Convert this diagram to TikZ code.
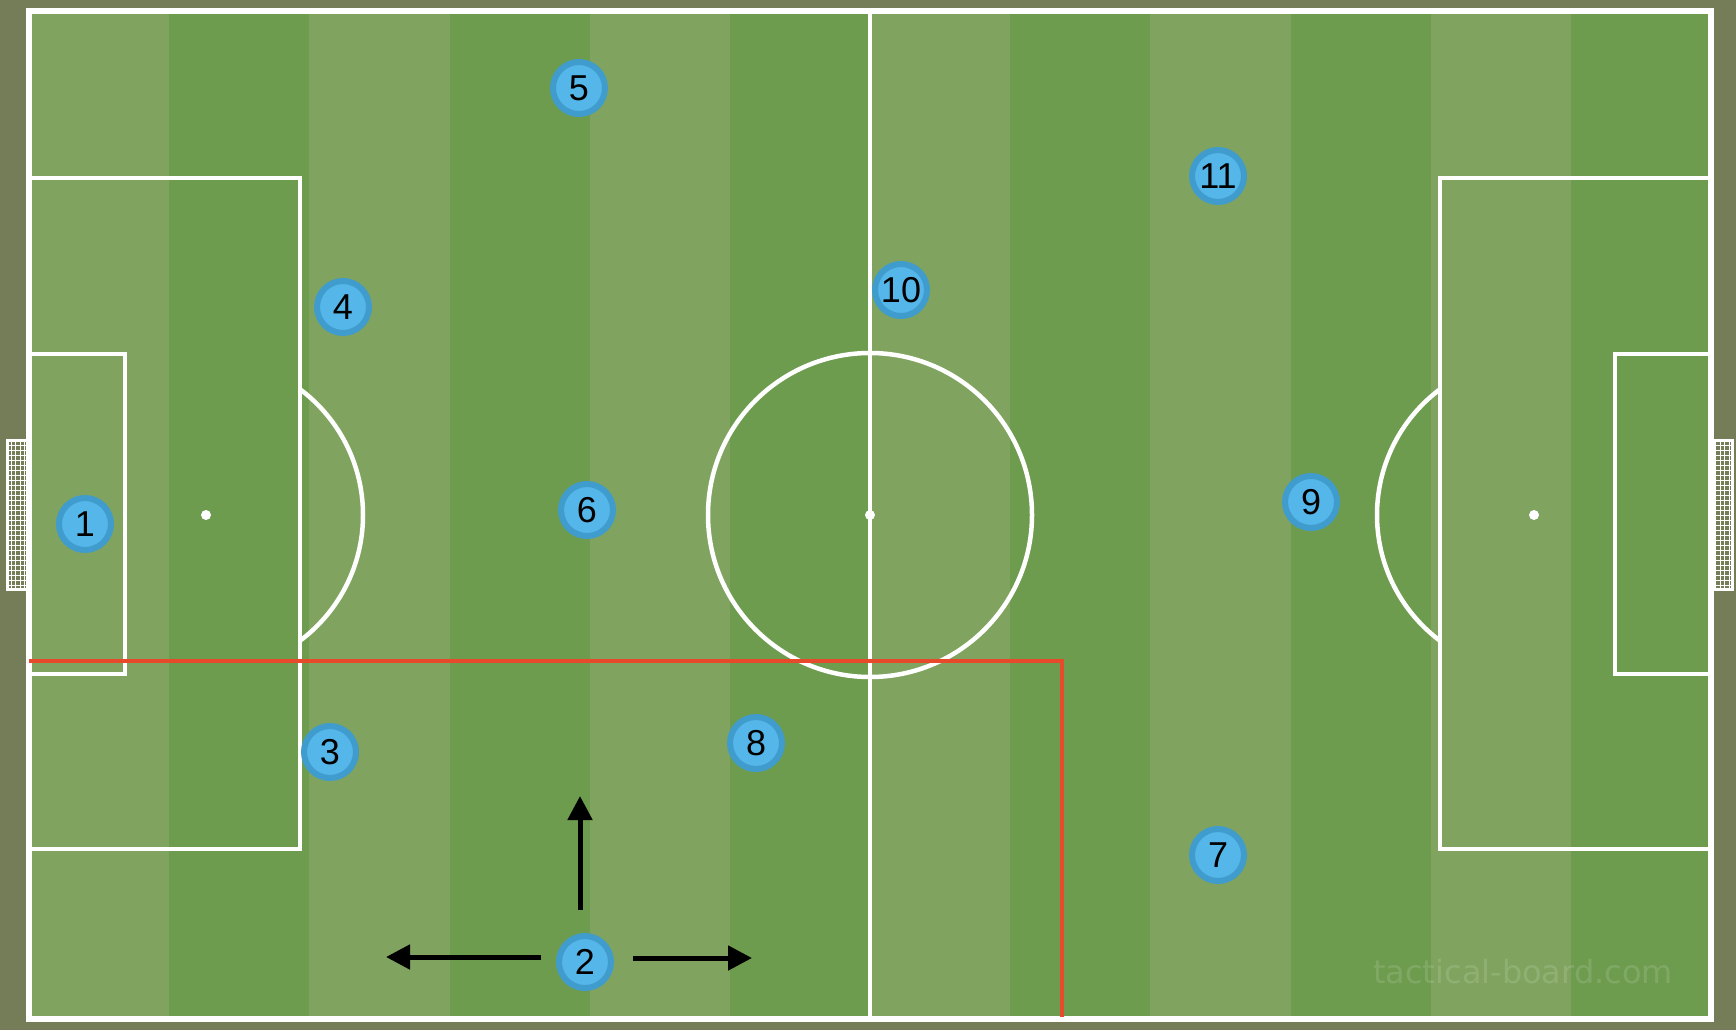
\documentclass[tikz,border=0pt]{standalone}
\usepackage{fontspec}
\newfontfamily\numfont{Liberation Sans}
\newfontfamily\wmfont{DejaVu Sans}
\usetikzlibrary{arrows.meta}
\definecolor{bgolive}{HTML}{747C58}
\definecolor{lightstripe}{HTML}{80A45F}
\definecolor{darkstripe}{HTML}{6D9C4F}
\definecolor{playerfill}{HTML}{55B6E9}
\definecolor{playerring}{HTML}{3F9CCC}
\definecolor{redline}{HTML}{E64A2A}
\tikzset{
  outerline/.style={draw=white, line width=6pt},
  markline/.style={draw=white, line width=4.5pt},
  netline/.style={draw=white, line width=1pt},
  player/.style={circle, inner sep=0pt, minimum size=52pt, fill=playerfill,
    draw=playerring, line width=6pt, text=black,
    font=\numfont\fontsize{36}{36}\selectfont},
  runarrow/.style={draw=black, line width=5pt, -{Triangle[length=24pt,width=24pt]}},
  tacticline/.style={draw=redline, line width=4.5pt, line join=miter},
  spot/.style={fill=white}
}
\begin{document}
\begin{tikzpicture}[x=1pt,y=-1pt]
\useasboundingbox (0,0) rectangle (1736,1030);
\fill[bgolive] (0,0) rectangle (1736,1030);
% pitch stripes
\fill[lightstripe] (29,11) rectangle (1711,1019);
\foreach \k in {0,...,5} {
  \fill[darkstripe] ({29+140.1667*(2*\k+1)},11) rectangle ++(140.1667,1008);
}
% goals
\draw[white, line width=3pt] (7.5,440.5) rectangle (27,589.5);
\foreach \x in {11,15.5,20,24.5} \draw[netline] (\x,440) -- (\x,590);
\foreach \y in {445,450,...,585} \draw[netline] (7,\y) -- (27,\y);
\draw[white, line width=3pt] (1732.5,440.5) rectangle (1713,589.5);
\foreach \x in {1729,1724.5,1720,1715.5} \draw[netline] (\x,440) -- (\x,590);
\foreach \y in {445,450,...,585} \draw[netline] (1713,\y) -- (1733,\y);
% markings
\draw[markline] (870,11) -- (870,1019);
\draw[markline] (870,515) circle[radius=162pt];
\draw[markline] (29,178) rectangle (300,849);
\draw[markline] (1711,178) rectangle (1440,849);
\draw[markline] (29,354) rectangle (125,674);
\draw[markline] (1711,354) rectangle (1615,674);
\begin{scope}
  \clip (300,0) rectangle (520,1030);
  \draw[markline] (206,515) circle[radius=157pt];
\end{scope}
\begin{scope}
  \clip (1220,0) rectangle (1440,1030);
  \draw[markline] (1534,515) circle[radius=157pt];
\end{scope}
\fill[spot] (206,515) circle[radius=5pt];
\fill[spot] (1534,515) circle[radius=5pt];
\fill[spot] (870,515) circle[radius=5pt];
\draw[outerline] (29,11) rectangle (1711,1019);
% red line
\coordinate (rA) at (29,661);
\coordinate (rB) at (1062,661);
\coordinate (rC) at (1062,1017);
\draw[tacticline] (rA) -- (rB) -- (rC);
% watermark
\node[anchor=base west, inner sep=0pt, text=white, text opacity=0.13] (wm) at (1373,983)
  {\wmfont\fontsize{32}{32}\selectfont tactical-board.com};
% players
\node[player] (p1) at (85,524) {1};
\node[player] (p2) at (585,962) {2};
\node[player] (p3) at (330,752) {3};
\node[player] (p4) at (343,307) {4};
\node[player] (p5) at (579,88) {5};
\node[player] (p6) at (587,510) {6};
\node[player] (p7) at (1218,855) {7};
\node[player] (p8) at (756,743) {8};
\node[player] (p9) at (1311,502) {9};
\node[player] (p10) at (901,290) {10};
\node[player] (p11) at (1218,176) {11};
% runs of player 2
\coordinate (uE) at (580,796);
\coordinate (lE) at (386,957);
\coordinate (rE) at (752,958);
\draw[runarrow, shorten <=23pt] (p2.north -| uE) -- (uE);
\draw[runarrow, shorten <=15pt] (p2.west |- lE) -- (lE);
\draw[runarrow, shorten <=19pt] (p2.east |- rE) -- (rE);
\end{tikzpicture}
\end{document}
